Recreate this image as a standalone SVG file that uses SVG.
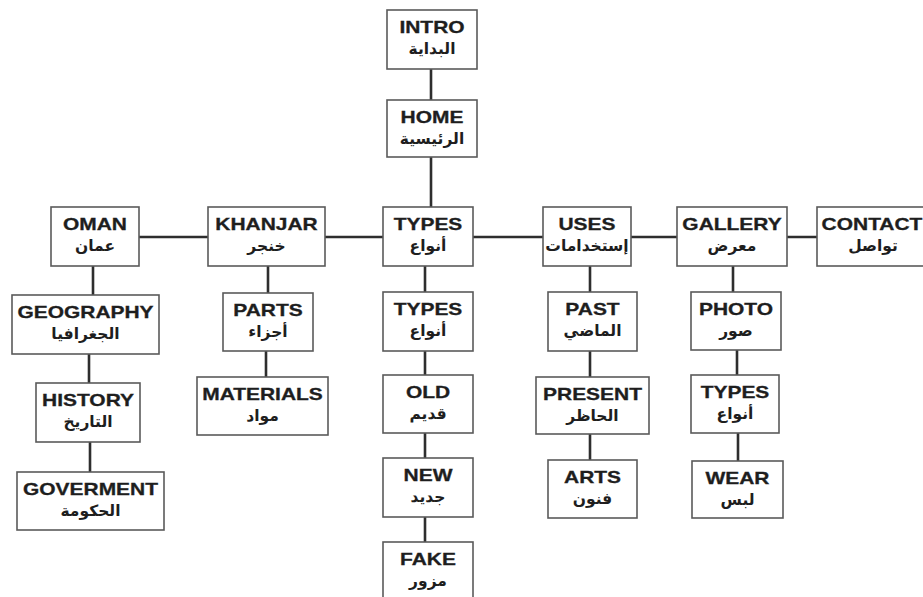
<svg xmlns="http://www.w3.org/2000/svg" width="923" height="597" viewBox="0 0 923 597">
<style>
.bx{fill:#fff;stroke:#5a5a5a;stroke-width:1.6}
.en{font-family:"Liberation Sans",Arial,sans-serif;font-weight:bold;font-size:16.5px;fill:#1e1e1e;stroke:#1e1e1e;stroke-width:0.3;text-anchor:middle}
.ar{font-family:"DejaVu Sans",sans-serif;font-weight:bold;font-size:15.5px;fill:#1e1e1e;text-anchor:middle;direction:rtl}
.ln{stroke:#2e2e2e;stroke-width:2.6;fill:none}
</style>
<rect width="923" height="597" fill="#fff"/>
<g id="connectors" class="ln">
<path d="M431 69V100M431 157V207"/>
<path d="M139 237H208M325 237H383M473 237H543M631 237H677M787 237H817"/>
<path d="M425 266V292M425 351V375M425 433V458M425 517V542"/>
<path d="M93 266V295M89 354V383M90 442V472"/>
<path d="M268 266V293M266 351V377"/>
<path d="M590 266V292M590 351V377M590 434V460"/>
<path d="M733 266V292M737 350V375M738 433V461"/>
</g>
<g id="intro"><rect class="bx" x="387" y="10" width="90" height="59"/><text class="en" transform="translate(432 33) scale(1.27 1)">INTRO</text><text class="ar" x="432" y="54">البداية</text></g>
<g id="home"><rect class="bx" x="387" y="100" width="90" height="57"/><text class="en" transform="translate(432 123) scale(1.27 1)">HOME</text><text class="ar" x="432" y="144">الرئيسية</text></g>
<g id="types"><rect class="bx" x="383" y="207" width="90" height="59"/><text class="en" transform="translate(428 230) scale(1.27 1)">TYPES</text><text class="ar" x="428" y="251">أنواع</text></g>
<g id="oman"><rect class="bx" x="51" y="207" width="88" height="59"/><text class="en" transform="translate(95 230) scale(1.27 1)">OMAN</text><text class="ar" x="95" y="251">عمان</text></g>
<g id="khanjar"><rect class="bx" x="208" y="207" width="117" height="59"/><text class="en" transform="translate(266.5 230) scale(1.27 1)">KHANJAR</text><text class="ar" x="266.5" y="251">خنجر</text></g>
<g id="uses"><rect class="bx" x="543" y="207" width="88" height="59"/><text class="en" transform="translate(587 230) scale(1.27 1)">USES</text><text class="ar" x="587" y="251">إستخدامات</text></g>
<g id="gallery"><rect class="bx" x="677" y="207" width="110" height="59"/><text class="en" transform="translate(732 230) scale(1.27 1)">GALLERY</text><text class="ar" x="732" y="251">معرض</text></g>
<g id="contact"><rect class="bx" x="817" y="207" width="115" height="59"/><text class="en" transform="translate(872 230) scale(1.27 1)">CONTACT</text><text class="ar" x="873" y="251">تواصل</text></g>
<g id="geography"><rect class="bx" x="12" y="295" width="147" height="59"/><text class="en" transform="translate(85.5 318) scale(1.27 1)">GEOGRAPHY</text><text class="ar" x="85.5" y="339">الجغرافيا</text></g>
<g id="history"><rect class="bx" x="36" y="383" width="104" height="59"/><text class="en" transform="translate(88 406) scale(1.27 1)">HISTORY</text><text class="ar" x="88" y="427">التاريخ</text></g>
<g id="goverment"><rect class="bx" x="17" y="472" width="147" height="58"/><text class="en" transform="translate(90.5 495) scale(1.27 1)">GOVERMENT</text><text class="ar" x="90.5" y="516">الحكومة</text></g>
<g id="parts"><rect class="bx" x="223" y="293" width="90" height="58"/><text class="en" transform="translate(268 316) scale(1.27 1)">PARTS</text><text class="ar" x="268" y="337">أجزاء</text></g>
<g id="materials"><rect class="bx" x="197" y="377" width="131" height="58"/><text class="en" transform="translate(262.5 400) scale(1.27 1)">MATERIALS</text><text class="ar" x="262.5" y="421">مواد</text></g>
<g id="types2"><rect class="bx" x="383" y="292" width="90" height="59"/><text class="en" transform="translate(428 315) scale(1.27 1)">TYPES</text><text class="ar" x="428" y="336">أنواع</text></g>
<g id="old"><rect class="bx" x="383" y="375" width="90" height="58"/><text class="en" transform="translate(428 398) scale(1.27 1)">OLD</text><text class="ar" x="428" y="419">قديم</text></g>
<g id="new"><rect class="bx" x="383" y="458" width="90" height="59"/><text class="en" transform="translate(428 481) scale(1.27 1)">NEW</text><text class="ar" x="428" y="502">جديد</text></g>
<g id="fake"><rect class="bx" x="383" y="542" width="90" height="62"/><text class="en" transform="translate(428 565) scale(1.27 1)">FAKE</text><text class="ar" x="428" y="586">مزور</text></g>
<g id="past"><rect class="bx" x="548" y="292" width="89" height="59"/><text class="en" transform="translate(592.5 315) scale(1.27 1)">PAST</text><text class="ar" x="592.5" y="336">الماضي</text></g>
<g id="present"><rect class="bx" x="536" y="377" width="113" height="57"/><text class="en" transform="translate(592.5 400) scale(1.27 1)">PRESENT</text><text class="ar" x="592.5" y="421">الحاظر</text></g>
<g id="arts"><rect class="bx" x="548" y="460" width="89" height="58"/><text class="en" transform="translate(592.5 483) scale(1.27 1)">ARTS</text><text class="ar" x="592.5" y="504">فنون</text></g>
<g id="photo"><rect class="bx" x="691" y="292" width="90" height="58"/><text class="en" transform="translate(736 315) scale(1.27 1)">PHOTO</text><text class="ar" x="736" y="336">صور</text></g>
<g id="types3"><rect class="bx" x="691" y="375" width="88" height="58"/><text class="en" transform="translate(735 398) scale(1.27 1)">TYPES</text><text class="ar" x="735" y="419">أنواع</text></g>
<g id="wear"><rect class="bx" x="692" y="461" width="91" height="57"/><text class="en" transform="translate(737.5 484) scale(1.27 1)">WEAR</text><text class="ar" x="737.5" y="505">لبس</text></g>
</svg>
